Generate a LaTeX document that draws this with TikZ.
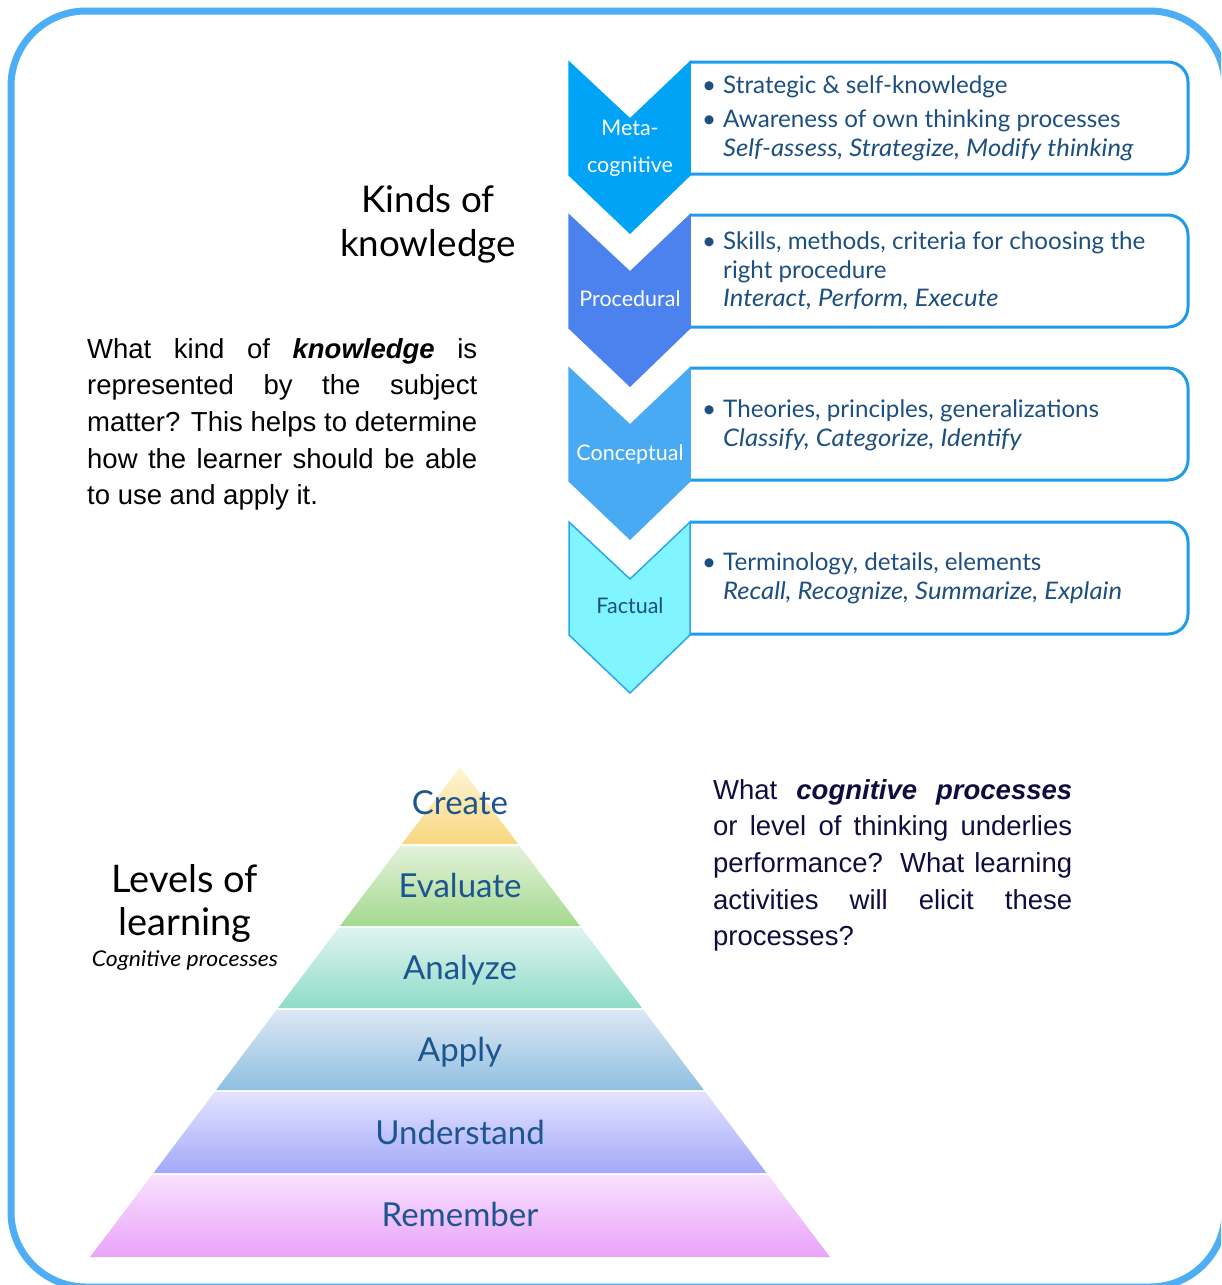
\documentclass[tikz,border=0pt]{standalone}
\usepackage{fontspec}
\newfontfamily\av{Lato}[ItalicFeatures={FakeStretch=1.06}]
\newfontfamily\ar{Liberation Sans}
\definecolor{framec}{HTML}{4DAEF5}
\definecolor{boxc}{HTML}{1E9BEB}
\definecolor{txtc}{HTML}{1D4F80}
\definecolor{metac}{HTML}{00A3F5}
\definecolor{procc}{HTML}{4B82EE}
\definecolor{concc}{HTML}{48AAF2}
\definecolor{factc}{HTML}{80F5FF}
\definecolor{factb}{HTML}{2AA5EE}
\definecolor{navy}{HTML}{0D0D40}
\definecolor{pyrt}{HTML}{1D5590}
\definecolor{crT}{HTML}{FFF6D6}\definecolor{crB}{HTML}{F7D77E}
\definecolor{evT}{HTML}{E3F2DA}\definecolor{evB}{HTML}{A3D98E}
\definecolor{anT}{HTML}{DFF3EF}\definecolor{anB}{HTML}{8FDCC9}
\definecolor{apT}{HTML}{DCE7F3}\definecolor{apB}{HTML}{8EBFE1}
\definecolor{unT}{HTML}{E3E3FF}\definecolor{unB}{HTML}{A3A9F9}
\definecolor{reT}{HTML}{F8E1FE}\definecolor{reB}{HTML}{E9A3F9}
\tikzset{
  boxst/.style={draw=boxc, line width=3pt, fill=white, rounded corners=20pt},
  chevst/.style={line width=1.5pt, line join=miter},
  boxtxt/.style={anchor=base west, inner sep=0pt, text=txtc, font=\av\fontsize{24.2}{28}\selectfont},
  chevlab/.style={anchor=base, inner sep=0pt, text=white, font=\av\fontsize{21.5}{24}\selectfont},
  pyrlab/.style={anchor=base, inner sep=0pt, text=pyrt, font=\av\fontsize{33}{38}\selectfont},
  title/.style={anchor=base, inner sep=0pt, text=black, font=\av\fontsize{36.8}{44}\selectfont},
  para/.style={inner sep=0pt, align=justify, font=\ar\fontsize{27.5}{36.7}\selectfont}
}
\begin{document}
\begin{tikzpicture}[x=1pt,y=-1pt]
\useasboundingbox (0,0) rectangle (1221,1285);
\clip (0,0) rectangle (1221,1285);
% outer frame
\draw[line width=7pt, framec, rounded corners=75pt] (11,11) rectangle (1225,1287);

% knowledge boxes and chevrons
\foreach \y/\fc/\dc/\nm in {62/metac/metac/meta, 215/procc/procc/proc, 368/concc/concc/conc, 522/factc/factb/fact}{
  \draw[boxst] (690,\y) -- (1188,\y) -- (1188,{\y+112}) -- (690,{\y+112});
  \draw[chevst, fill=\fc, draw=\dc] (569,\y) -- (630,{\y+57}) -- (690,\y) -- (690,{\y+113}) -- (630,{\y+171}) -- (569,{\y+113}) -- cycle;
}

% chevron labels
\node[chevlab] (lmeta1) at (630,135) {Meta-};
\node[chevlab] (lmeta2) at (630,172) {cognitive};
\node[chevlab] (lproc) at (630,306) {Procedural};
\node[chevlab] (lconc) at (630,460) {Conceptual};
\node[chevlab, text=txtc] (lfact) at (630,613) {Factual};

% box texts
\node[boxtxt] (mb1) at (702,93) {\textbullet};
\node[boxtxt] (mt1) at (723,93) {Strategic \& self-knowledge};
\node[boxtxt] (mb2) at (702,127) {\textbullet};
\node[boxtxt] (mt2) at (723,127) {Awareness of own thinking processes};
\node[boxtxt] (mt3) at (723,156) {\itshape Self-assess, Strategize, Modify thinking};

\node[boxtxt] (pb1) at (702,249) {\textbullet};
\node[boxtxt] (pt1) at (723,249) {Skills, methods, criteria for choosing the};
\node[boxtxt] (pt2) at (723,278) {right procedure};
\node[boxtxt] (pt3) at (723,306) {\itshape Interact, Perform, Execute};

\node[boxtxt] (cb1) at (702,417) {\textbullet};
\node[boxtxt] (ct1) at (723,417) {Theories, principles, generalizations};
\node[boxtxt] (ct2) at (723,446) {\itshape Classify, Categorize, Identify};

\node[boxtxt] (fb1) at (702,570) {\textbullet};
\node[boxtxt] (ft1) at (723,570) {Terminology, details, elements};
\node[boxtxt] (ft2) at (723,599) {\itshape Recall, Recognize, Summarize, Explain};

% titles
\node[title] (kinds1) at (428,212) {Kinds of};
\node[title] (kinds2) at (428,256) {knowledge};
\node[title, font=\av\fontsize{38}{44}\selectfont] (lev1) at (185,892) {Levels of};
\node[title, font=\av\fontsize{38}{44}\selectfont] (lev2) at (185,935) {learning};
\node[anchor=base, inner sep=0pt, font=\av\itshape\fontsize{21.7}{24}\selectfont] (lev3) at (185,966) {Cognitive processes};

% paragraphs
\node[para, anchor=north west, text width=390pt, text=black] (p1) at (87,338)
  {What kind of \textbf{\textit{knowledge}} is\linebreak represented by the subject\linebreak matter? This helps to determine\linebreak how the learner should be able\linebreak to use and apply it.};
\node[para, anchor=north west, text width=359pt, text=navy] (p2) at (713,779)
  {What \textbf{\textit{cognitive processes}}\linebreak or level of thinking underlies\linebreak performance? What learning\linebreak activities will elicit these\linebreak processes?};

% pyramid
\pgfmathsetmacro{\kk}{370/490}
\foreach \ya/\yb/\ct/\cb/\nm/\lab/\bl in {767/845/crT/crB/create/Create/814, 845/927/evT/evB/evaluate/Evaluate/897, 927/1009/anT/anB/analyze/Analyze/979, 1009/1091/apT/apB/apply/Apply/1061, 1091/1174/unT/unB/understand/Understand/1144, 1174/1257/reT/reB/remember/Remember/1226}{
  \pgfmathsetmacro{\yt}{\ya==767 ? 767 : \ya+1}
  \pgfmathsetmacro{\ybb}{\yb==1257 ? 1257 : \yb-1}
  \pgfmathsetmacro{\xt}{\kk*(\yt-767)}
  \pgfmathsetmacro{\xb}{\kk*(\ybb-767)}
  \shade[top color=\ct, bottom color=\cb] ({460-\xt},\yt) -- ({460+\xt},\yt) -- ({460+\xb},\ybb) -- ({460-\xb},\ybb) -- cycle;
  \node[pyrlab] (\nm) at (460,\bl) {\lab};
}
\end{tikzpicture}
\end{document}
